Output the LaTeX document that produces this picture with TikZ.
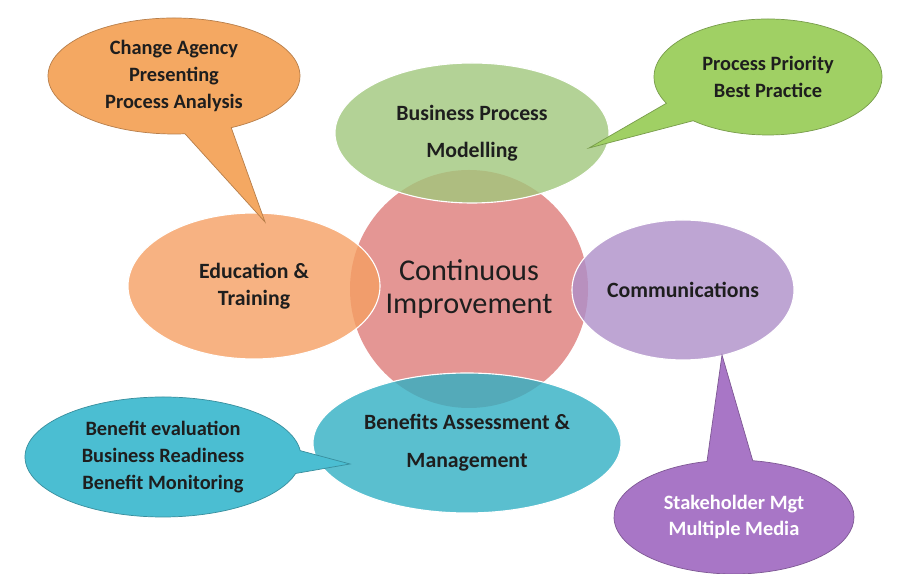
\documentclass[tikz,border=0pt]{standalone}
\usepackage{fontspec}
\setmainfont{Carlito}
\usetikzlibrary{shapes.geometric,shapes.callouts}
\definecolor{ciPink}{RGB}{228,150,148}
\definecolor{bpmGreen}{RGB}{161,199,124}
\definecolor{eduPeach}{RGB}{245,159,99}
\definecolor{comLilac}{RGB}{174,143,201}
\definecolor{bamCyan}{RGB}{49,176,195}
\definecolor{caOrange}{RGB}{244,168,98}
\definecolor{ppGreen}{RGB}{160,208,100}
\definecolor{beCyan}{RGB}{75,190,210}
\definecolor{smPurple}{RGB}{168,118,198}
\definecolor{inkGrey}{RGB}{30,30,30}
\tikzset{
    every node/.style={inner sep=0mm, text=inkGrey, align=center}
}
\tikzset{
    bubble/.style={ellipse, draw=white, line width=0.8pt, fill opacity=0.8, text opacity=1,
        font=\fontsize{15.5}{26}\selectfont\bfseries},
    speech/.style={ellipse callout, fill=#1, draw=#1!75!black, line width=0.5pt,
        callout pointer arc=22, font=\fontsize{14.5}{19}\selectfont\bfseries}
}

\begin{document}
\begin{tikzpicture}
  \useasboundingbox [fill=white] (0cm, 0cm) rectangle (22.6cm, 14.35cm);

  \node (ci) [circle, fill=ciPink, minimum size=5.95cm, font=\fontsize{21.5}{24}\selectfont] at (11.725cm, 7.125cm) {Continuous\\Improvement};

  \node (bpm) [bubble, fill=bpmGreen, minimum width=6.85cm, minimum height=3.5cm] at (11.8cm, 11.025cm) {Business Process\\Modelling};
  \node (edu) [bubble, fill=eduPeach, minimum width=6.3cm, minimum height=3.65cm, font=\fontsize{15.5}{19}\selectfont\bfseries] at (6.35cm, 7.2cm) {Education \&\\Training};
  \node (com) [bubble, fill=comLilac, minimum width=5.55cm, minimum height=3.5cm] at (17.075cm, 7.1cm) {Communications};
  \node (bam) [bubble, fill=bamCyan, minimum width=7.7cm, minimum height=3.5cm, font=\fontsize{15.5}{27}\selectfont\bfseries] at (11.675cm, 3.275cm) {Benefits Assessment \&\\Management};

  \coordinate (caTip) at (6.625cm, 8.8cm);
  \coordinate (ppTip) at (14.725cm, 10.65cm);
  \coordinate (beTip) at (8.75cm, 2.75cm);
  \coordinate (smTip) at (18.05cm, 5.475cm);

  \node (ca) [speech=caOrange, callout absolute pointer={(caTip)}, minimum width=6.3cm, minimum height=2.9cm] at (4.35cm, 12.45cm) {Change Agency\\Presenting\\Process Analysis};
  \node (pp) [speech=ppGreen, callout absolute pointer={(ppTip)}, minimum width=5.7cm, minimum height=2.9cm] at (19.2cm, 12.425cm) {Process Priority\\Best Practice};
  \node (be) [speech=beCyan, callout absolute pointer={(beTip)}, minimum width=6.9cm, minimum height=3.0cm] at (4.075cm, 2.925cm) {Benefit evaluation\\Business Readiness\\Benefit Monitoring};
  \node (sm) [speech=smPurple, callout absolute pointer={(smTip)}, minimum width=6.0cm, minimum height=2.85cm, text=white] at (18.35cm, 1.425cm) {Stakeholder Mgt\\Multiple Media};
\end{tikzpicture}
\end{document}
